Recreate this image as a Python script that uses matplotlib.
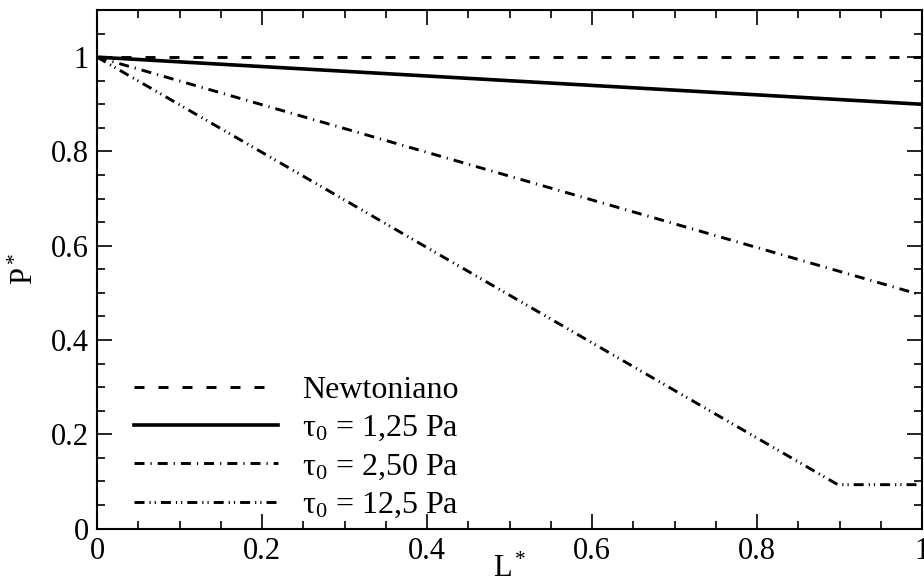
import matplotlib
matplotlib.use("Agg")
import matplotlib.pyplot as plt
from matplotlib.ticker import MultipleLocator

plt.rcParams['font.family'] = ['Liberation Serif', 'DejaVu Serif']
plt.rcParams['mathtext.fontset'] = 'custom'
plt.rcParams['mathtext.rm'] = 'Liberation Serif'
plt.rcParams['mathtext.it'] = 'Liberation Serif:italic'
plt.rcParams['lines.scale_dashes'] = False

# Data
x_newt = [0.0, 1.0]
y_newt = [1.0, 1.0]
x_125 = [0.0, 1.0]
y_125 = [1.0, 0.90]
x_250 = [0.0, 1.0]
y_250 = [1.0, 0.495]
x_12 = [0.0, 0.898, 1.0]
y_12 = [1.0, 0.093, 0.093]
labels = ['Newtoniano', 'τ$_0$ = 1,25 Pa', 'τ$_0$ = 2,50 Pa', 'τ$_0$ = 12,5 Pa']

px = 0.72
fig = plt.figure(figsize=(9.24, 5.86), dpi=100)
ax = fig.add_axes([97/924, 1-528.5/586, (922-97)/924, (528.5-10)/586])

lw = 2.1
ax.plot(x_newt, y_newt, color='black', lw=lw, dashes=(10*px, 14*px), label=labels[0])
ax.plot(x_125, y_125, color='black', lw=2.6, label=labels[1])
ax.plot(x_250, y_250, color='black', lw=lw, dashes=(10*px, 6*px, 1.2*px, 6*px), label=labels[2])
ax.plot(x_12, y_12, color='black', lw=lw, dashes=(10*px, 5*px, 1.2*px, 4*px, 1.2*px, 5*px), label=labels[3])

ax.set_xlim(0, 1)
ax.set_ylim(0, 1.1)
ax.xaxis.set_minor_locator(MultipleLocator(0.05))
ax.yaxis.set_minor_locator(MultipleLocator(0.05))
ax.set_xticks([0, 0.2, 0.4, 0.6, 0.8, 1.0])
ax.set_xticklabels(['0', '0.2', '0.4', '0.6', '0.8', '1'])
ax.set_yticks([0, 0.2, 0.4, 0.6, 0.8, 1.0])
ax.set_yticklabels(['0', '0.2', '0.4', '0.6', '0.8', '1'])
ax.tick_params(which='both', direction='in', top=True, right=True, labelsize=22, width=1.2)
ax.tick_params(which='major', length=11, pad=6)
ax.tick_params(which='minor', length=6)
for s in ax.spines.values():
    s.set_linewidth(1.5)

ax.set_xlabel('L$^*$', fontsize=22, labelpad=-8)
ax.set_ylabel('P$^*$', fontsize=22, labelpad=8)

ax.legend(loc='lower left', bbox_to_anchor=(0.018, -0.027), frameon=False, fontsize=23,
          handlelength=4.5, handletextpad=0.75, labelspacing=0.28, borderaxespad=0.3)

fig.savefig('out.png', dpi=100)
